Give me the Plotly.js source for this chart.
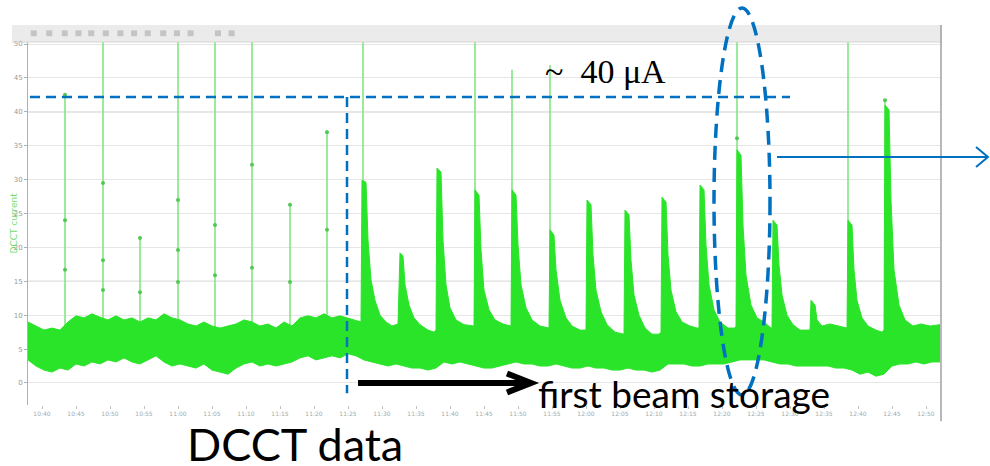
<!DOCTYPE html>
<html>
<head>
<meta charset="utf-8">
<script src="https://cdn.plot.ly/plotly-3.0.1.min.js"></script>
<style>html,body{margin:0;padding:0;background:#fff;}#chart{width:990px;height:466px;}</style>
</head>
<body>
<div id="chart"></div>
<script>
// ---- DCCT trace: upper envelope (time in s, current in µA) ----
const upperT = [0,8,16,24,32,40,48,56,64,72,80,88,96,104,112,120,128,136,144,152,160,168,176,184,192,200,208,216,224,232,240,248,256,264,272,280,288,296,304,312,320,328,
333,334,338,340,343,347,352,358,364,370,
372,375,377,381,386,392,400,406,
408,409,413,415,418,422,428,436,444,
446,447,451,453,456,461,467,475,482,
483,484,488,490,493,498,504,512,519,
521,522,526,528,532,538,544,552,557,
558,559,563,565,568,573,579,587,594,
596,597,601,603,606,611,617,624,631,
633,634,638,640,643,648,654,662,669,
671,672,676,678,681,686,692,700,707,
708,709,713,715,718,723,729,736,743,
744,745,749,751,754,759,765,772,780,
782,783,787,789,794,802,810,817,
819,820,824,826,829,834,840,848,854,
856,857,861,863,866,871,877,885,893,902,912];
const upperY = [9.0,8.4,7.8,8.1,7.8,9.0,9.9,9.6,10.2,9.7,9.3,9.9,9.3,9.6,9.0,9.6,9.3,10.2,9.6,9.3,8.7,8.4,9.0,8.4,8.1,8.4,8.7,9.3,9.0,8.4,8.7,8.1,9.0,8.4,9.6,9.9,9.6,10.2,9.6,9.9,9.6,9.3,
9.0,29.9,29.6,21.1,15.2,12.2,10.0,9.0,8.4,8.7,
19.2,18.7,14.5,11.5,9.6,8.6,7.8,7.5,
7.8,31.7,31.1,21.1,14.5,11.1,9.3,8.6,8.4,
8.4,28.5,27.7,19.6,13.7,10.8,9.3,8.7,8.4,
8.4,28.5,27.7,20.4,14.5,11.1,9.3,8.4,8.1,
8.1,22.6,21.8,16.7,12.2,9.6,8.4,7.8,7.8,
7.8,27.0,26.3,18.9,13.7,10.5,8.6,7.5,7.2,
7.2,25.5,24.8,18.1,13.0,10.0,8.1,7.2,7.2,
7.5,27.4,26.7,18.9,13.7,10.5,9.0,8.4,8.1,
8.1,29.2,28.5,20.4,14.5,10.8,9.0,8.1,8.1,
8.4,34.4,33.6,23.3,15.9,11.5,9.6,9.0,8.1,
8.1,24.0,23.3,17.4,13.0,10.0,8.6,7.8,7.8,
7.8,12.2,11.5,9.3,8.4,8.7,8.4,8.1,
8.1,24.0,23.3,16.7,12.2,9.6,8.4,7.8,7.5,
7.8,41.0,40.3,27.0,16.7,11.5,9.3,8.4,8.7,8.4,8.6];

// ---- lower envelope of the noise band ----
const lowerT = [0,8,16,24,32,40,48,56,64,72,80,88,96,104,112,120,128,136,144,152,160,168,176,184,192,200,208,216,224,232,240,248,256,264,272,280,288,296,304,312,320,328,336,344,352,360,368,376,384,392,400,408,416,424,432,440,448,456,464,472,480,488,496,504,512,520,528,536,544,552,560,568,576,584,592,600,608,616,624,632,640,648,656,664,672,680,688,696,704,712,720,728,736,744,752,760,768,776,784,792,800,808,816,824,832,840,848,856,864,872,880,888,896,904,912];
const lowerY = [3.4,2.5,1.9,1.6,2.2,1.9,2.8,2.5,3.1,2.8,
3.4,3.1,3.7,3.1,2.8,3.4,4.0,3.1,2.5,2.8,
2.5,2.2,2.8,1.9,1.6,1.3,2.2,2.8,3.1,2.5,
2.8,2.5,2.8,3.1,3.7,4.0,3.4,3.7,4.0,3.7,
4.3,4.0,3.4,3.1,2.8,2.5,2.8,2.5,2.2,2.2,
1.9,2.2,3.1,2.8,3.1,2.8,2.5,2.2,2.2,2.5,
2.8,3.1,2.8,2.8,2.5,2.5,2.8,2.5,2.2,2.2,
2.5,2.2,2.2,1.9,1.9,2.2,1.9,1.9,1.6,1.9,
2.8,2.8,2.8,2.5,2.5,2.8,2.8,2.8,3.1,3.4,
3.4,3.4,3.4,3.1,2.8,2.8,2.5,2.5,2.5,2.5,
2.5,2.2,2.2,1.9,1.3,1.6,1.0,1.3,2.5,2.8,
2.8,3.1,2.8,3.1,3.1];

// ---- thin injection spikes (time, tip current; 51 = off scale) ----
const spikeT   = [37, 75, 112, 150, 187, 224, 262, 299, 335, 447, 484, 522, 709, 820, 857];
const spikeTop = [42.5, 51, 21.5, 51, 51, 51, 26.3, 37.3, 51, 51, 46.2, 46.9, 51, 51, 41.7];
const spikeBase = 8;

// ---- sampled points visible along the thin spikes ----
const dotT = [37,37,37, 75,75,75, 112,112, 150,150,150, 187,187, 224,224, 262,262, 299,299, 709, 857];
const dotY = [42.5,24.0,16.7, 29.5,18.1,13.7, 21.4,13.4, 27.0,19.6,14.9, 23.3,15.9, 32.2,17.0, 26.3,14.9, 37.0,22.6, 36.1, 41.7];

// ---- ticks ----
const yTicks = [0,5,10,15,20,25,30,35,40,45,50];
const yTickText = ['0','5','10','15','20','25','30','35','40','45','50'];
const xTicks = [14,48,82,116,150,184,218,252,286,320,354,388,422,456,490,524,558,592,626,660,694,728,762,796,830,864,898];
const xTickText = ['10:40','10:45','10:50','10:55','11:00','11:05','11:10','11:15','11:20','11:25','11:30','11:35','11:40','11:45','11:50','11:55','12:00','12:05','12:10','12:15','12:20','12:25','12:30','12:35','12:40','12:45','12:50'];

// ---- annotation values ----
const level40 = 42.2;      // "~ 40 µA" level
const firstStoreT = 319;   // first beam storage time
const GREEN = '#2ae42a';
const BLUE = '#0070C0';

// build thin spike lines
const sx = [], sy = [];
spikeT.forEach((t, i) => { sx.push(t, t, null); sy.push(spikeBase, spikeTop[i], null); });

const traces = [
  {x: sx, y: sy, mode: 'lines', line: {color: '#84e584', width: 1.6}, hoverinfo: 'skip'},
  {x: lowerT, y: lowerY, mode: 'lines', line: {color: GREEN, width: 1}, hoverinfo: 'skip'},
  {x: upperT, y: upperY, mode: 'lines', fill: 'tonexty', fillcolor: GREEN, line: {color: GREEN, width: 1}, hoverinfo: 'skip'},
  {x: dotT, y: dotY, mode: 'markers', marker: {color: '#52c852', size: 4}, hoverinfo: 'skip'}
];

const shapes = [
  // screenshot toolbar + border
  {type:'rect', xref:'paper', yref:'paper', x0:-0.0175, x1:1.0022, y0:1.0, y1:1.0468, fillcolor:'#ebebeb', line:{width:0}, layer:'below'},
  {type:'line', xref:'paper', yref:'paper', x0:-0.0175, x1:1.0022, y0:1.0, y1:1.0, line:{color:'#d4d4d4', width:1}},
  {type:'line', xref:'paper', yref:'paper', x0:1.0011, x1:1.0011, y0:-0.045, y1:1.0468, line:{color:'#a0a0a0', width:1.5}},
  // darker grid lines
  {type:'line', xref:'x', yref:'y', x0:0, x1:912, y0:40, y1:40, line:{color:'#b4b4b4', width:1}, layer:'below'},
  {type:'line', xref:'x', yref:'y', x0:0, x1:912, y0:15, y1:15, line:{color:'#b4b4b4', width:1}, layer:'below'},
  // dashed 40 µA level and first storage marker
  {type:'line', xref:'x', yref:'y', x0:2, x1:762, y0:level40, y1:level40, line:{color:BLUE, width:2.5, dash:'10px,6px'}},
  {type:'line', xref:'x', yref:'y', x0:firstStoreT, x1:firstStoreT, y0:level40, y1:-1.5, line:{color:BLUE, width:2.5, dash:'10px,6px'}},
  // dashed ellipse
  {type:'circle', xref:'paper', yref:'paper', x0:0.7522, x1:0.8136, y0:0.0275, y1:1.0937, line:{color:BLUE, width:3.5, dash:'14px,8px'}},
  // blue pointer arrow
  {type:'line', xref:'paper', yref:'paper', x0:0.8213, x1:1.0526, y0:0.6832, y1:0.6832, line:{color:BLUE, width:2}},
  {type:'path', xref:'paper', yref:'paper', path:'M 1.0395 0.7107 L 1.0526 0.6832 L 1.0395 0.6556', line:{color:BLUE, width:2}},
  // black arrow
  {type:'line', xref:'x', yref:'y', x0:330, x1:500, y0:0, y1:0, line:{color:'#000', width:6}},
  {type:'path', xref:'x', yref:'y', path:'M 479 1.4 L 503 0 L 479 -1.4', line:{color:'#000', width:6}}
];
// toolbar icons
[0.003, 0.02, 0.037, 0.052, 0.066, 0.082, 0.098, 0.113, 0.128, 0.145, 0.16, 0.175, 0.205, 0.22].forEach(px => {
  shapes.push({type:'rect', xref:'paper', yref:'paper', x0:px, x1:px+0.0066, y0:1.016, y1:1.032, fillcolor:'#c4c4c4', line:{width:0}});
});

const annotations = [
  {xref:'x', yref:'y', x:577, y:46.0, text:'~\u00a0\u00a040 μA', showarrow:false, xanchor:'center', yanchor:'middle',
   font:{family:'Liberation Serif, Times New Roman, serif', size:34, color:'#000'}},
  {xref:'x', yref:'y', x:508, y:-1.6, text:'first beam storage', showarrow:false, xanchor:'left', yanchor:'middle',
   font:{family:'Lato, Open Sans, sans-serif', size:37, color:'#000'}},
  {xref:'paper', yref:'paper', x:0.2928, y:-0.107, text:'DCCT data', showarrow:false, xanchor:'center', yanchor:'middle',
   font:{family:'Lato, Open Sans, sans-serif', size:45, color:'#000'}},
  {xref:'paper', yref:'paper', x:-0.0164, y:0.5, text:'DCCT current', showarrow:false, textangle:-90, xanchor:'center', yanchor:'middle',
   font:{family:'DejaVu Sans, sans-serif', size:9, color:'#6fdc6f'}}
];

const layout = {
  width: 990, height: 466,
  margin: {l:28, r:50, t:42, b:61, pad:0},
  paper_bgcolor:'#ffffff', plot_bgcolor:'#ffffff',
  showlegend:false,
  xaxis: {range:[0,912], showgrid:false, zeroline:false, showline:false,
          tickmode:'array', tickvals:xTicks, ticktext:xTickText, ticks:'outside', ticklen:3, tickcolor:'#c0c0c0',
          tickfont:{size:6, color:'#a8a8a8', family:'DejaVu Sans'}, fixedrange:true},
  yaxis: {range:[-3.25,50.3], tickmode:'array', tickvals:yTicks, ticktext:yTickText, showgrid:true, gridcolor:'#e6e6e6',
          zeroline:false, showline:true, linecolor:'#b0b0b0', ticks:'outside', ticklen:3, tickcolor:'#b0b0b0',
          tickfont:{size:7, color:'#999', family:'DejaVu Sans'}, fixedrange:true},
  shapes: shapes,
  annotations: annotations
};

Plotly.newPlot('chart', traces, layout, {staticPlot:true, displayModeBar:false});
</script>
</body>
</html>
